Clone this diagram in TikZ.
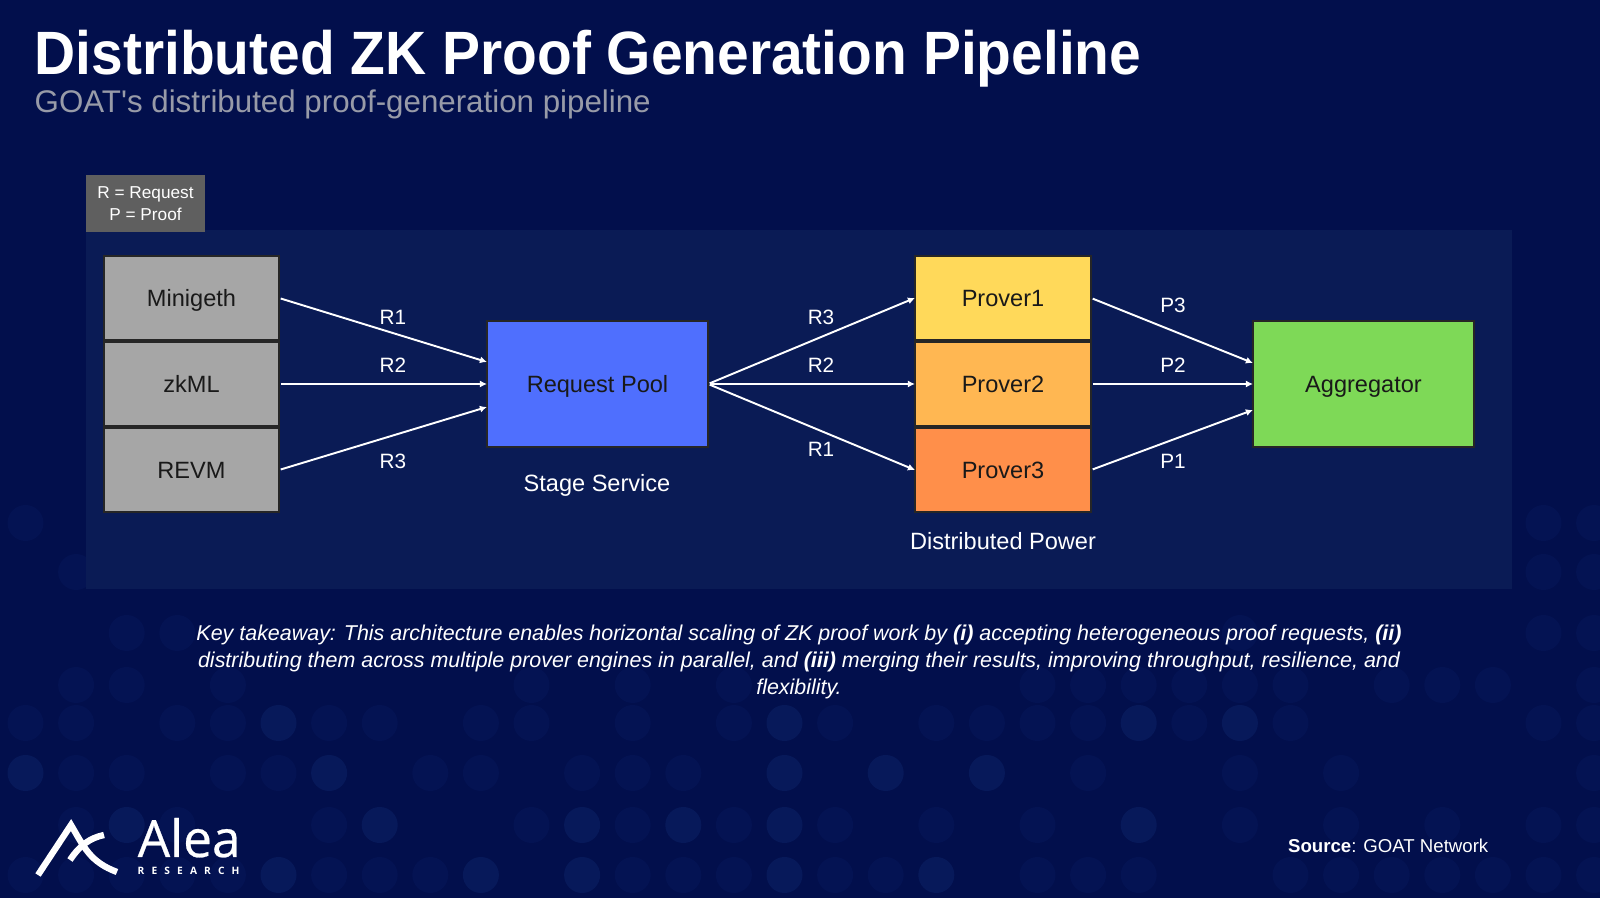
\documentclass[tikz,border=0pt]{standalone}
\usepackage{fontspec}
\setmainfont{Liberation Sans}
\newfontfamily\plainfont{Liberation Sans}
\newfontfamily\logofont{Open Sans}
\usepackage{xcolor}
\usetikzlibrary{positioning,calc,arrows.meta}
\definecolor{pagebg}{HTML}{020F4C}
\definecolor{panelbg}{HTML}{0A1B55}
\definecolor{dotsoft}{HTML}{041353}
\definecolor{dotmid}{HTML}{07195A}
\definecolor{legendgrey}{HTML}{5F5F5F}
\definecolor{srcgrey}{HTML}{A6A6A6}
\definecolor{poolblue}{HTML}{4F6FFE}
\definecolor{proverA}{HTML}{FFD95A}
\definecolor{proverB}{HTML}{FFB752}
\definecolor{proverC}{HTML}{FF8F4A}
\definecolor{agggreen}{HTML}{7ED957}
\definecolor{subgrey}{HTML}{989BA8}
\tikzset{
    boxbase/.style={draw=black!85,line width=0.5pt,inner sep=0pt,outer sep=0pt,text=black!90,text height=6pt,text depth=1.2pt,font=\fontsize{6.7}{8}\selectfont},
    srcbox/.style={boxbase,fill=srcgrey,minimum width=1.75cm,minimum height=0.84cm},
    proverbox/.style={boxbase,minimum width=1.76cm,minimum height=0.84cm},
    widebox/.style={boxbase,minimum width=2.21cm,minimum height=1.26cm},
    flowlabel/.style={text=white,inner sep=0pt,font=\fontsize{5.9}{7}\selectfont},
    caption/.style={text=white,inner sep=0pt,font=\fontsize{6.7}{8}\selectfont},
    flow/.style={->,white,line width=0.55pt,>={Latex[length=2pt,width=2pt]},shorten <=0.5pt}
}
\begin{document}
\begin{tikzpicture}[x=0.01cm,y=-0.01cm]
        \useasboundingbox (0,0) rectangle (1600,898);
        \fill[pagebg] (0,0) rectangle (1600,898);

        % Dotted backdrop
        \foreach \row/\cols in {523/{0,30,31},572/{1,30,31},633/{2,3,24,30,31},685/{1,2,4,10,12,14,20,21,22,23,24,25,27,28,29,31},723/{0,1,3,4,6,7,9,10,12,14,16,18,19,20,21,23,25,30,31},773/{1,2,4,5,8,9,11,12,13,21,24,26,31},825/{1,3,6,10,12,14,16,18,20,24,26,28,30,31},875/{0,1,2,3,4,6,7,8,12,13,14,16,17,20,21,22,25,26,27,28,29,30,31}}{
            \foreach \c in \cols
                \fill[dotsoft] ({25.5+50.6*\c},\row) circle (18);
        }
        \foreach \row/\cols in {723/{5,15,22,24},773/{0,6,15,17,19},825/{2,7,11,13,15,22},875/{5,9,11,15,18}}{
            \foreach \c in \cols
                \fill[dotmid] ({25.5+50.6*\c},\row) circle (18);
        }

        % Title
        \node[anchor=base west,inner sep=0pt,text=white,font=\bfseries\fontsize{17.4}{20}\selectfont\addfontfeature{FakeStretch=0.93}] (title) at (34,75) {Distributed ZK Proof Generation Pipeline};
        \node[anchor=base west,inner sep=0pt,text=subgrey,font=\plainfont\fontsize{8.9}{10}\selectfont] (subtitle) at (34,113) {GOAT's distributed proof-generation pipeline};

        % Panel and legend
        \fill[panelbg] (86,230) rectangle (1512,589);
        \node[fill=legendgrey,text=white,inner sep=0pt,minimum width=1.19cm,minimum height=0.57cm,align=center,font=\fontsize{4.9}{6.3}\selectfont] (legend) at (145.5,203.5) {R = Request\\P = Proof};

        % Sources
        \node[srcbox] (minigeth) at (191.5,298) {Minigeth};
        \node[srcbox] (zkml) at (191.5,384) {zkML};
        \node[srcbox] (revm) at (191.5,470) {REVM};

        % Stage service
        \node[widebox,fill=poolblue] (pool) at (597.5,384) {Request Pool};
        \node[caption] (stage) at (597,485) {Stage Service};

        % Provers
        \node[proverbox,fill=proverA] (prover1) at (1003,298) {Prover1};
        \node[proverbox,fill=proverB] (prover2) at (1003,384) {Prover2};
        \node[proverbox,fill=proverC] (prover3) at (1003,470) {Prover3};
        \node[caption] (power) at (1003,541) {Distributed Power};

        % Aggregator
        \node[widebox,fill=agggreen] (aggregator) at (1363.5,384) {Aggregator};

        % Requests into the pool
        \draw[flow] (minigeth.east) -- ($(pool.west)+(0,-22)$);
        \draw[flow] (zkml.east) -- (pool.west);
        \draw[flow] (revm.east) -- ($(pool.west)+(0,23)$);
        \node[flowlabel] (inR1) at (393,317) {R1};
        \node[flowlabel] (inR2) at (393,365) {R2};
        \node[flowlabel] (inR3) at (393,461) {R3};

        % Requests out to the provers
        \draw[flow] (pool.east) -- (prover1.west);
        \draw[flow] (pool.east) -- (prover2.west);
        \draw[flow] (pool.east) -- (prover3.west);
        \node[flowlabel] (outR3) at (821,317) {R3};
        \node[flowlabel] (outR2) at (821,365) {R2};
        \node[flowlabel] (outR1) at (821,449) {R1};

        % Proofs into the aggregator
        \draw[flow] (prover1.east) -- ($(aggregator.west)+(0,-21)$);
        \draw[flow] (prover2.east) -- (aggregator.west);
        \draw[flow] (prover3.east) -- ($(aggregator.west)+(0,26)$);
        \node[flowlabel] (proofP3) at (1173,305) {P3};
        \node[flowlabel] (proofP2) at (1173,365) {P2};
        \node[flowlabel] (proofP1) at (1173,461) {P1};

        % Takeaway
        \node[inner sep=0pt,text=white,align=center,font=\itshape\fontsize{6.1}{7.68}\selectfont] (takeaway) at (799,662) {Key takeaway: This architecture enables horizontal scaling of ZK proof work by \textbf{(i)} accepting heterogeneous proof requests, \textbf{(ii)}\\distributing them across multiple prover engines in parallel, and \textbf{(iii)} merging their results, improving throughput, resilience, and\\flexibility.};

        % Logo
        \draw[white,line width=1.8pt] (38,875) -- (71,825) .. controls (84,847) and (90,862) .. (117,872);
        \draw[white,line width=1.8pt] (70,860) .. controls (80,845) and (90,838) .. (104,835);
        \node[anchor=base west,inner sep=0pt,text=white,font=\logofont\fontsize{14.6}{16}\selectfont\addfontfeature{FakeBold=0.5}] (alea) at (137,857) {Alea};
        \node[anchor=base west,inner sep=0pt,text=white,font=\logofont\bfseries\fontsize{2.9}{4}\selectfont\addfontfeature{LetterSpace=70}] (research) at (137,875) {RESEARCH};

        % Source
        \node[anchor=base east,inner sep=0pt,text=white,font=\fontsize{5.3}{7}\selectfont] (source) at (1489,853) {\textbf{Source}: GOAT Network};
    \end{tikzpicture}
\end{document}
